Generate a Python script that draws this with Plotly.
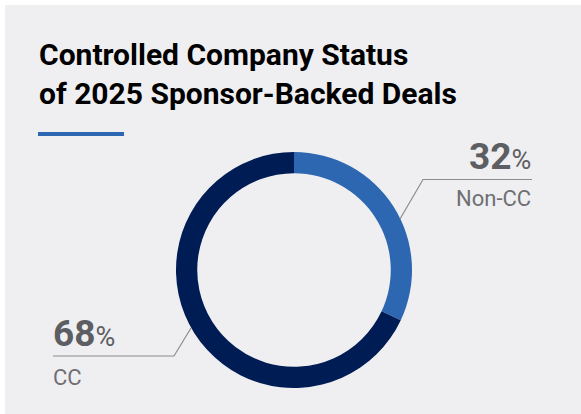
import plotly.graph_objects as go

# Data
labels = ["Non-CC", "CC"]
values = [32, 68]
colors = ["#2D67B1", "#001C54"]
title_lines = ["Controlled Company Status", "of 2025 Sponsor-Backed Deals"]

W, H = 581, 414


def px(x):
    return x / W


def py(y):
    return 1 - y / H


# Donut geometry (pixels)
cx, cy, R = 294, 270, 118
hole = 0.82

fig = go.Figure()
fig.add_trace(go.Pie(
    labels=labels,
    values=values,
    hole=hole,
    sort=False,
    direction="clockwise",
    rotation=0,
    marker=dict(colors=colors, line=dict(width=0)),
    textinfo="none",
    hoverinfo="label+percent",
    showlegend=False,
    domain=dict(x=[px(cx - R), px(cx + R)], y=[py(cy + R), py(cy - R)]),
))

shapes = [
    # panel background
    dict(type="rect", xref="paper", yref="paper", x0=px(5), x1=1, y0=0, y1=py(5),
         fillcolor="#EFEFF1", line=dict(width=0), layer="below"),
    # accent rule under title
    dict(type="rect", xref="paper", yref="paper", x0=px(38), x1=px(124), y0=py(136), y1=py(132),
         fillcolor="#2D67B1", line=dict(width=0)),
    # leader line: Non-CC
    dict(type="path", xref="paper", yref="paper",
         path=f"M {px(400)} {py(219)} L {px(423)} {py(179.5)} L {px(532)} {py(179.5)}",
         line=dict(color="#8C8C90", width=1.2)),
    # leader line: CC
    dict(type="path", xref="paper", yref="paper",
         path=f"M {px(191)} {py(328)} L {px(174)} {py(356)} L {px(53)} {py(356)}",
         line=dict(color="#8C8C90", width=1.2)),
]

pct_color = "#5D5E63"
lab_color = "#6E6E73"
annotations = [
    dict(text="<br>".join(title_lines), x=px(37), y=py(35), xref="paper", yref="paper",
         xanchor="left", yanchor="top", align="left", showarrow=False,
         font=dict(family="Roboto", size=30, color="#000000", weight="bold")),
    dict(text=f"<b>{values[0]}</b><span style='font-size:27px'>%</span>",
         x=px(533), y=py(156), xref="paper", yref="paper", xanchor="right", yanchor="middle",
         showarrow=False, font=dict(family="Roboto", size=37, color=pct_color)),
    dict(text=labels[0], x=px(533), y=py(198), xref="paper", yref="paper",
         xanchor="right", yanchor="middle", showarrow=False,
         font=dict(family="Roboto", size=22, color=lab_color)),
    dict(text=f"<b>{values[1]}</b><span style='font-size:27px'>%</span>",
         x=px(51), y=py(333), xref="paper", yref="paper", xanchor="left", yanchor="middle",
         showarrow=False, font=dict(family="Roboto", size=37, color=pct_color)),
    dict(text=labels[1], x=px(51), y=py(377), xref="paper", yref="paper",
         xanchor="left", yanchor="middle", showarrow=False,
         font=dict(family="Roboto", size=22, color=lab_color)),
]

fig.update_layout(
    width=W, height=H,
    margin=dict(l=0, r=0, t=0, b=0),
    paper_bgcolor="#FFFFFF",
    plot_bgcolor="#EFEFF1",
    shapes=shapes,
    annotations=annotations,
)

fig.write_html("out.html")
